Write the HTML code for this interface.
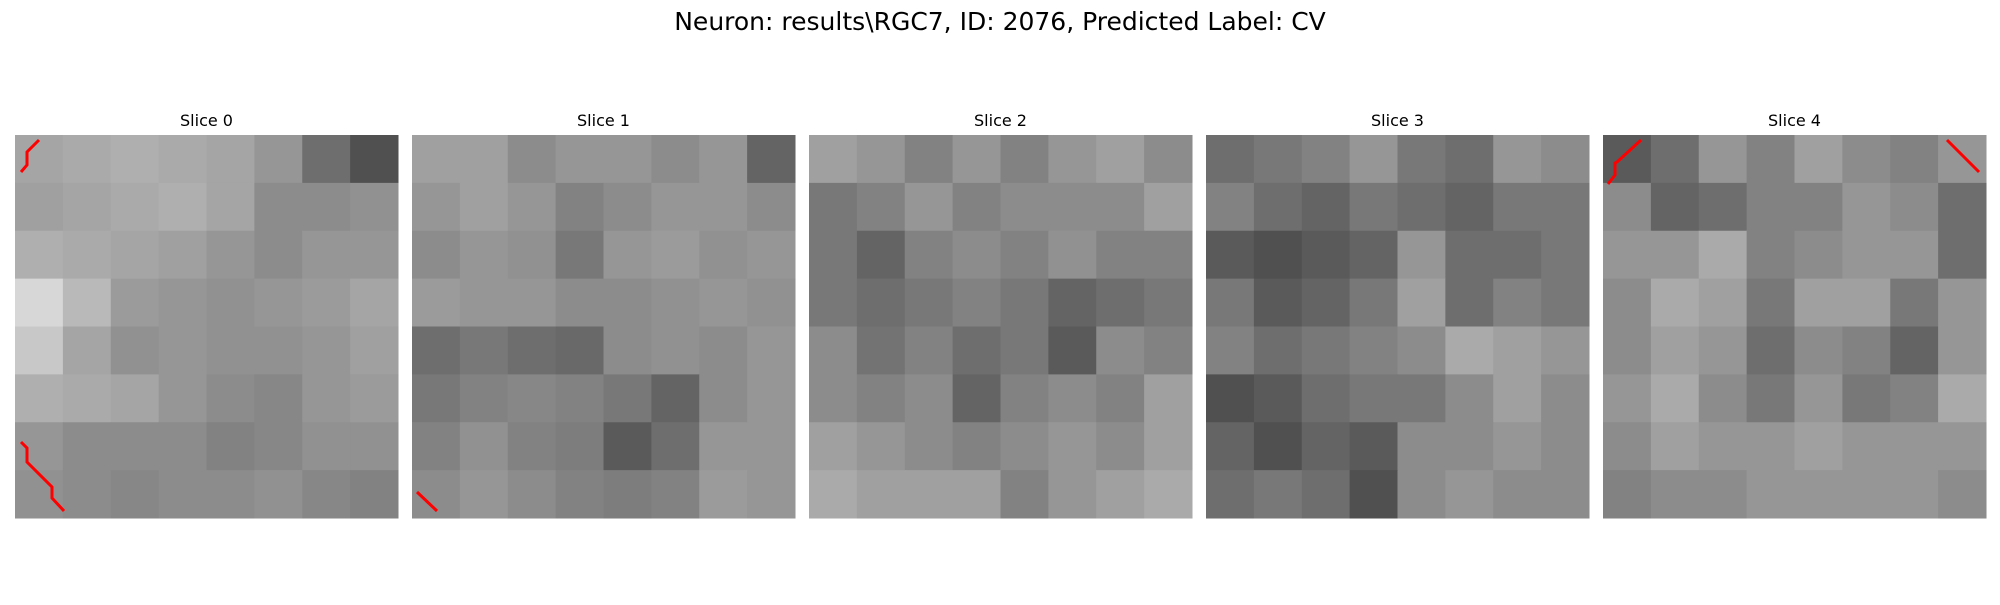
<!DOCTYPE html>
<html><head><meta charset="utf-8"><style>
html,body{margin:0;padding:0;background:#fff;}
body{width:2000px;height:600px;overflow:hidden;}
</style></head><body>
<svg id="fig" width="2000" height="600" xmlns="http://www.w3.org/2000/svg">
<rect width="2000" height="600" fill="#fff"/>
<text x="1000" y="30" text-anchor="middle" font-family="DejaVu Sans, Liberation Sans, sans-serif" font-size="25" fill="#000">Neuron: results\RGC7, ID: 2076, Predicted Label: CV</text>
</svg>
<script>
const sliceTitles = ["Slice 0","Slice 1","Slice 2","Slice 3","Slice 4"];
const slice0 = [
[165,170,175,170,165,150,110,80],
[160,165,170,175,165,140,140,145],
[175,170,165,160,150,140,150,150],
[215,185,155,150,145,150,155,165],
[200,165,145,150,145,145,150,160],
[175,170,165,150,140,135,150,155],
[150,140,140,140,130,135,145,145],
[145,140,135,140,140,145,135,130]];
const slice1 = [
[160,160,140,150,150,140,150,100],
[150,160,150,130,140,150,150,140],
[140,150,145,120,150,155,145,150],
[155,150,150,140,140,145,150,145],
[110,120,110,105,140,145,140,150],
[120,130,135,130,120,100,140,150],
[130,145,130,125,90,110,150,150],
[140,150,140,130,125,130,155,150]];
const slice2 = [
[160,150,130,150,130,150,160,140],
[120,130,150,130,140,140,140,160],
[120,100,130,140,130,145,130,130],
[120,110,120,130,120,100,110,120],
[140,115,130,110,120,90,140,130],
[140,130,140,100,130,140,130,160],
[160,150,140,130,140,150,140,160],
[170,160,160,160,130,150,160,170]];
const slice3 = [
[110,120,130,150,120,110,150,140],
[130,110,100,120,110,100,120,120],
[90,80,90,100,150,110,110,120],
[120,90,100,120,160,110,130,120],
[130,110,120,130,140,170,160,150],
[80,90,110,120,120,140,160,140],
[100,80,100,90,140,140,150,140],
[110,120,110,80,140,150,140,140]];
const slice4 = [
[90,110,150,130,160,140,130,150],
[140,100,110,130,130,150,140,110],
[150,150,170,130,140,150,150,110],
[140,170,160,120,160,160,120,150],
[140,160,150,110,140,130,100,150],
[150,170,140,120,150,120,130,170],
[140,160,150,150,160,150,150,150],
[130,140,140,150,150,150,150,140]];
const slices = [slice0,slice1,slice2,slice3,slice4];
const redPaths = [
[[[39,140],[27,152],[27,165],[21,172]],[[21,442],[27,448],[27,462],[52,487],[52,498],[64,511]]],
[[[417,492],[437,511]]],
[],
[],
[[[1641,140],[1617,162],[1615,163],[1615,175],[1608,184]],[[1947,140],[1979,172]]]];

const NS="http://www.w3.org/2000/svg";
const svg=document.getElementById('fig');
const panelX=[15,412,809,1206,1603], panelY=135, panelS=383;
slices.forEach((grid,p)=>{
  const g=document.createElementNS(NS,'g');
  
  
  const n=grid.length, cs=panelS/n;
  grid.forEach((row,r)=>row.forEach((v,c)=>{
    const rc=document.createElementNS(NS,'rect');
    rc.setAttribute('x',(panelX[p]+c*cs).toFixed(2));
    rc.setAttribute('y',(panelY+r*cs).toFixed(2));
    rc.setAttribute('width',(cs+0.5).toFixed(2));
    rc.setAttribute('height',(cs+0.5).toFixed(2));
    rc.setAttribute('fill',`rgb(${v},${v},${v})`);
    
    
    g.appendChild(rc);
  }));
  svg.appendChild(g);
  const t=document.createElementNS(NS,'text');
  t.setAttribute('x',panelX[p]+panelS/2);
  t.setAttribute('y',126);
  t.setAttribute('text-anchor','middle');
  t.setAttribute('font-family','DejaVu Sans, Liberation Sans, sans-serif');
  t.setAttribute('font-size','16');
  t.textContent=sliceTitles[p];
  
  
  svg.appendChild(t);
  redPaths[p].forEach(pts=>{
    const pl=document.createElementNS(NS,'polyline');
    pl.setAttribute('points',pts.map(q=>q.join(',')).join(' '));
    pl.setAttribute('fill','none');
    pl.setAttribute('stroke','#ff0000');
    pl.setAttribute('stroke-width','3');
    
    
    svg.appendChild(pl);
  });
});
</script>
</body></html>
